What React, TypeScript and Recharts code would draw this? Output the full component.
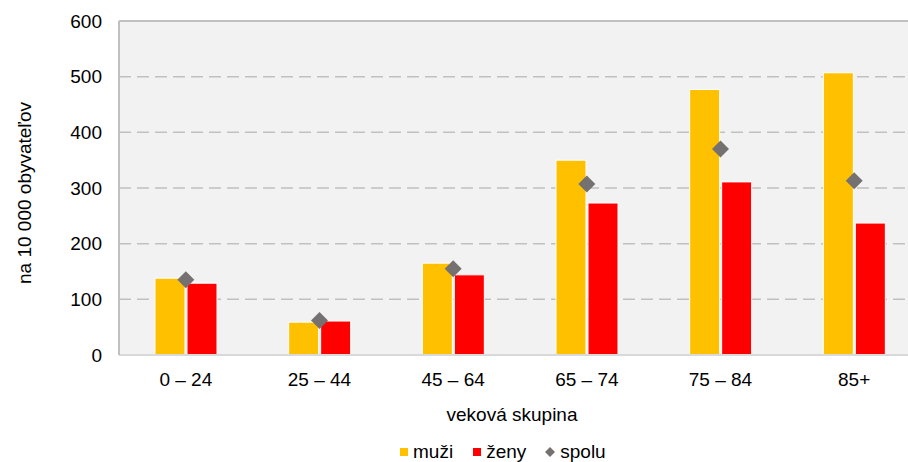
import React from "react"
import {
  ComposedChart,
  Bar,
  Line,
  XAxis,
  YAxis,
  CartesianGrid,
  Legend,
  ReferenceLine,
} from "recharts"

const groups = ["0 – 24", "25 – 44", "45 – 64", "65 – 74", "75 – 84", "85+"]
const muzi = [138, 59, 165, 350, 477, 507]
const zeny = [129, 61, 144, 273, 311, 237]
const spolu = [135, 62, 155, 307, 370, 313]
const yTicks = [0, 100, 200, 300, 400, 500, 600]

const data = groups.map((g, i) => ({ group: g, muzi: muzi[i], zeny: zeny[i], spolu: spolu[i] }))

const font = "'Liberation Sans', Arial, sans-serif"

const Diamond = (props: any) => {
  const { cx, cy } = props
  if (cx == null || cy == null) return null
  const r = 8.5
  return <polygon points={`${cx},${cy - r} ${cx + r},${cy} ${cx},${cy + r} ${cx - r},${cy}`} fill="#767171" />
}

const LegendBox = () => (
  <div style={{ display: "flex", alignItems: "center", fontFamily: font, fontSize: 19, color: "#000", lineHeight: "22px", whiteSpace: "nowrap" }}>
    <span style={{ width: 8, height: 8, background: "#ffc000", marginRight: 5 }} />
    <span style={{ marginRight: 20 }}>muži</span>
    <span style={{ width: 8, height: 8, background: "#ff0000", marginRight: 5 }} />
    <span style={{ marginRight: 19 }}>ženy</span>
    <svg width={10} height={10} style={{ marginRight: 5 }}>
      <polygon points="5,0 10,5 5,10 0,5" fill="#767171" />
    </svg>
    <span>spolu</span>
  </div>
)

const App: React.FC = () => {
  return (
    <div style={{ position: "absolute", left: 0, top: 0, width: 908, height: 462, overflow: "hidden", background: "#fff" }}>
      <ComposedChart
        width={922}
        height={462}
        data={data}
        margin={{ top: 21, right: 1, bottom: 0, left: 0 }}
        barSize={30}
        barGap={2}
      >
        <CartesianGrid vertical={false} fill="#f2f2f2" stroke="#c0c0c0" strokeDasharray="12 6" strokeWidth={1.5} />
        <ReferenceLine y={600} stroke="#c0c0c0" strokeWidth={2} />
        <XAxis
          dataKey="group"
          height={107}
          axisLine={{ stroke: "#d9d9d9", strokeWidth: 2 }}
          tickLine={false}
          tickMargin={12}
          tick={{ fill: "#000", fontSize: 19, fontFamily: font }}
          label={{
            content: () => (
              <text x={512} y={414} textAnchor="middle" dominantBaseline="central" fill="#000" fontSize={19} fontFamily={font}>
                veková skupina
              </text>
            ),
          }}
        />
        <YAxis
          width={119}
          domain={[0, 600]}
          ticks={yTicks}
          interval={0}
          axisLine={{ stroke: "#c0c0c0", strokeWidth: 2 }}
          tickLine={false}
          tickMargin={11}
          tick={{ fill: "#000", fontSize: 19, fontFamily: font }}
          label={{
            content: () => (
              <text
                x={24}
                y={193}
                textAnchor="middle"
                dominantBaseline="central"
                transform="rotate(-90 24 193)"
                fill="#000"
                fontSize={19}
                fontFamily={font}
              >
                na 10 000 obyvateľov
              </text>
            ),
          }}
        />
        <Bar dataKey="muzi" name="muži" fill="#ffc000" stroke="#fff" strokeWidth={1} isAnimationActive={false} />
        <Bar dataKey="zeny" name="ženy" fill="#ff0000" stroke="#fff" strokeWidth={1} isAnimationActive={false} />
        <Line dataKey="spolu" name="spolu" stroke="none" dot={<Diamond />} activeDot={false} isAnimationActive={false} />
        <Legend
          layout="horizontal"
          verticalAlign="middle"
          align="center"
          content={() => <LegendBox />}
          wrapperStyle={{ top: 441, left: 400, width: "auto", height: "auto" }}
        />
      </ComposedChart>
    </div>
  )
}

export default App
